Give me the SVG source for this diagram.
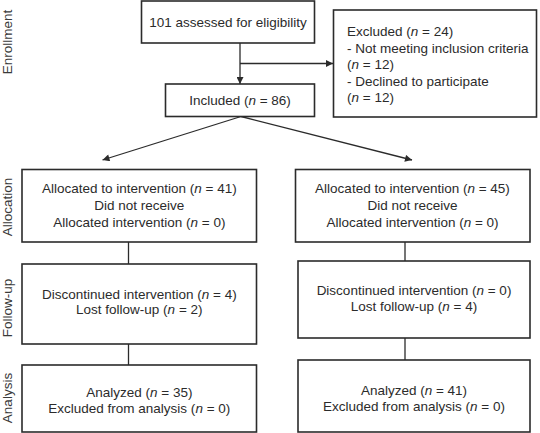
<svg xmlns="http://www.w3.org/2000/svg" width="540" height="433" viewBox="0 0 540 433">
<defs>
<style>
.box{fill:#fff;stroke:#2b2b2b;stroke-width:1.6}
.ln{fill:none;stroke:#2b2b2b;stroke-width:1.3}
text{font-family:"Liberation Sans",Arial,sans-serif;font-size:13.5px;fill:#2b2b2b}
.c{text-anchor:middle}
.side{text-anchor:middle;fill:#3a3a3a}
</style>
<marker id="ah" viewBox="0 0 10 10" refX="10" refY="5" markerWidth="8" markerHeight="7" markerUnits="userSpaceOnUse" orient="auto">
<path d="M0,0 L10,5 L0,10 z" fill="#2b2b2b"/>
</marker>
</defs>
<rect width="540" height="433" fill="#fff"/>

<g id="phases">
<text class="side" transform="translate(11.5,42) rotate(-90)">Enrollment</text>
<text class="side" transform="translate(11.5,207) rotate(-90)">Allocation</text>
<text class="side" transform="translate(11.5,308) rotate(-90)">Follow-up</text>
<text class="side" transform="translate(11.5,398) rotate(-90)">Analysis</text>
</g>

<g id="connectors">
<line class="ln" x1="240" y1="43" x2="240" y2="84" marker-end="url(#ah)"/>
<line class="ln" x1="240" y1="63.5" x2="333" y2="63.5" marker-end="url(#ah)"/>
<line class="ln" x1="241" y1="116.5" x2="102.5" y2="160" marker-end="url(#ah)"/>
<line class="ln" x1="241" y1="116.5" x2="412" y2="160" marker-end="url(#ah)"/>
<line class="ln" x1="128.5" y1="242" x2="128.5" y2="264"/>
<line class="ln" x1="405" y1="242" x2="405" y2="261"/>
<line class="ln" x1="128.5" y1="344" x2="128.5" y2="365"/>
<line class="ln" x1="405" y1="338" x2="405" y2="360"/>
</g>

<g id="assessed">
<rect class="box" x="141.5" y="1" width="173" height="42"/>
<text class="c" x="228" y="26.5">101 assessed for eligibility</text>
</g>

<g id="excluded">
<rect class="box" x="333.5" y="10" width="203" height="107"/>
<text x="347" y="36">Excluded (<tspan font-style="italic">n</tspan> = 24)</text>
<text x="347" y="52.5">- Not meeting inclusion criteria</text>
<text x="347" y="69">(<tspan font-style="italic">n</tspan> = 12)</text>
<text x="347" y="85.5">- Declined to participate</text>
<text x="347" y="102">(<tspan font-style="italic">n</tspan> = 12)</text>
</g>

<g id="included">
<rect class="box" x="165.5" y="84" width="149" height="32.5"/>
<text class="c" x="240" y="105">Included (<tspan font-style="italic">n</tspan> = 86)</text>
</g>

<g id="alloc-left">
<rect class="box" x="22" y="169.5" width="234.5" height="72.5"/>
<text class="c" x="139.3" y="193">Allocated to intervention (<tspan font-style="italic">n</tspan> = 41)</text>
<text class="c" x="139.3" y="210">Did not receive</text>
<text class="c" x="139.3" y="227">Allocated intervention (<tspan font-style="italic">n</tspan> = 0)</text>
</g>

<g id="alloc-right">
<rect class="box" x="295.5" y="169.5" width="234.5" height="72.5"/>
<text class="c" x="412.5" y="193">Allocated to intervention (<tspan font-style="italic">n</tspan> = 45)</text>
<text class="c" x="412.5" y="210">Did not receive</text>
<text class="c" x="412.5" y="227">Allocated intervention (<tspan font-style="italic">n</tspan> = 0)</text>
</g>

<g id="follow-left">
<rect class="box" x="22" y="264" width="234.5" height="80"/>
<text class="c" x="139.3" y="298.5">Discontinued intervention (<tspan font-style="italic">n</tspan> = 4)</text>
<text class="c" x="139.3" y="314">Lost follow-up (<tspan font-style="italic">n</tspan> = 2)</text>
</g>

<g id="follow-right">
<rect class="box" x="298" y="261" width="232" height="77"/>
<text class="c" x="414" y="295">Discontinued intervention (<tspan font-style="italic">n</tspan> = 0)</text>
<text class="c" x="414" y="311">Lost follow-up (<tspan font-style="italic">n</tspan> = 4)</text>
</g>

<g id="analysis-left">
<rect class="box" x="22" y="365" width="234.5" height="67"/>
<text class="c" x="139.3" y="396.5">Analyzed (<tspan font-style="italic">n</tspan> = 35)</text>
<text class="c" x="139.3" y="412.5">Excluded from analysis (<tspan font-style="italic">n</tspan> = 0)</text>
</g>

<g id="analysis-right">
<rect class="box" x="298" y="360" width="232" height="72"/>
<text class="c" x="414" y="394.5">Analyzed (<tspan font-style="italic">n</tspan> = 41)</text>
<text class="c" x="414" y="411">Excluded from analysis (<tspan font-style="italic">n</tspan> = 0)</text>
</g>
</svg>
